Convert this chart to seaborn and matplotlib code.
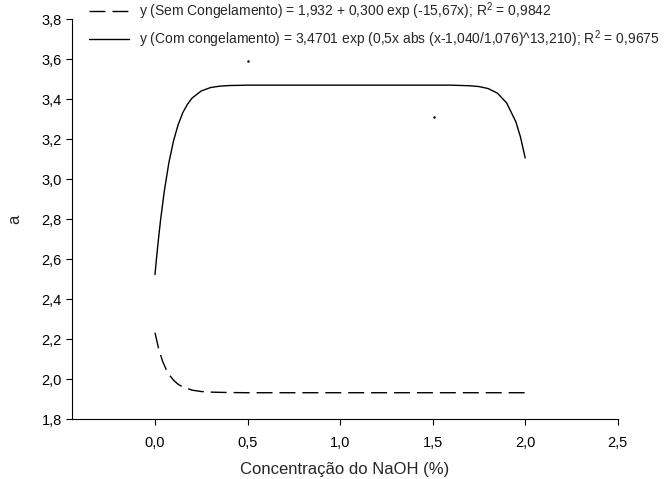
'''
    Parametro a versus concentracao de NaOH, com e sem congelamento
'''

# --
# Dependancies

import matplotlib
matplotlib.use('Agg')
import matplotlib.pyplot as plt
import seaborn as sns
import pandas as pd
import numpy as np

# --
# Data (curves)

x_sem = [0.0, 0.02, 0.04, 0.06, 0.08, 0.10, 0.125, 0.15, 0.20, 0.25,
         0.30, 0.40, 0.50, 0.75, 1.00, 1.25, 1.50, 1.75, 2.00]
y_sem = [2.232, 2.151, 2.092, 2.049, 2.018, 1.995, 1.974, 1.961, 1.945, 1.938,
         1.935, 1.933, 1.932, 1.932, 1.932, 1.932, 1.932, 1.932, 1.932]

x_com = [0.0, 0.01, 0.02, 0.03, 0.05, 0.075, 0.10, 0.125, 0.15, 0.175,
         0.20, 0.25, 0.30, 0.35, 0.40, 0.50, 0.75, 1.00, 1.25, 1.50,
         1.60, 1.70, 1.75, 1.80, 1.85, 1.90, 1.95, 1.975, 2.00]
y_com = [2.523, 2.621, 2.711, 2.794, 2.938, 3.082, 3.191, 3.272, 3.332, 3.374,
         3.405, 3.441, 3.458, 3.465, 3.468, 3.470, 3.470, 3.470, 3.470, 3.470,
         3.470, 3.467, 3.463, 3.453, 3.430, 3.381, 3.286, 3.209, 3.106]

# stray points visible in the plot area
x_pts = [0.50, 1.51]
y_pts = [3.59, 3.31]

lab_sem = 'y (Sem Congelamento) = 1,932 + 0,300 exp (-15,67x); R$^2$ = 0,9842'
lab_com = 'y (Com congelamento) = 3,4701 exp (0,5x abs (x-1,040/1,076)^13,210); R$^2$ = 0,9675'

xticks = [0.0, 0.5, 1.0, 1.5, 2.0, 2.5]
yticks = [1.8, 2.0, 2.2, 2.4, 2.6, 2.8, 3.0, 3.2, 3.4, 3.6, 3.8]

df_sem = pd.DataFrame({'x': x_sem, 'y': y_sem})
df_com = pd.DataFrame({'x': x_com, 'y': y_com})

# --
# Plot

sns.set_style('ticks')
plt.rcParams['font.family'] = ['Liberation Sans', 'DejaVu Sans']
plt.rcParams['mathtext.fontset'] = 'custom'
plt.rcParams['mathtext.rm'] = 'Liberation Sans'

fig = plt.figure(figsize=(6.7, 4.79), dpi=100)
ax = fig.add_axes([0.107, 0.125, 0.815, 0.835])

sns.lineplot(data=df_sem, x='x', y='y', ax=ax, color='black', lw=1.0,
             dashes=False, label=lab_sem, linestyle=(0, (11.5, 5)))
sns.lineplot(data=df_com, x='x', y='y', ax=ax, color='black', lw=1.0,
             label=lab_com)
ax.scatter(x_pts, y_pts, s=0.6, color='black', zorder=3)

ax.set_xlim(-0.45, 2.5)
ax.set_ylim(1.8, 3.8)
ax.set_xticks(xticks)
ax.set_yticks(yticks)
ax.set_xticklabels([f'{v:.1f}'.replace('.', ',') for v in xticks])
ax.set_yticklabels([f'{v:.1f}'.replace('.', ',') for v in yticks])
ax.tick_params(labelsize=10.5, length=4, width=0.8, colors='black', pad=3)
ax.tick_params(axis='x', pad=8)
ax.set_xlabel('Concentração do NaOH (%)', fontsize=12, labelpad=9)
ax.set_ylabel('a', fontsize=12, labelpad=14)
sns.despine(ax=ax)
for s in ['left', 'bottom']:
    ax.spines[s].set_linewidth(0.8)
    ax.spines[s].set_color('black')

ax.legend(loc='upper left', bbox_to_anchor=(0.128, 1.005),
          bbox_transform=fig.transFigure, frameon=False, fontsize=10,
          handlelength=2.9, handletextpad=0.75, labelspacing=0.45,
          borderpad=0.2, borderaxespad=0)

fig.savefig('out.png', dpi=100)
